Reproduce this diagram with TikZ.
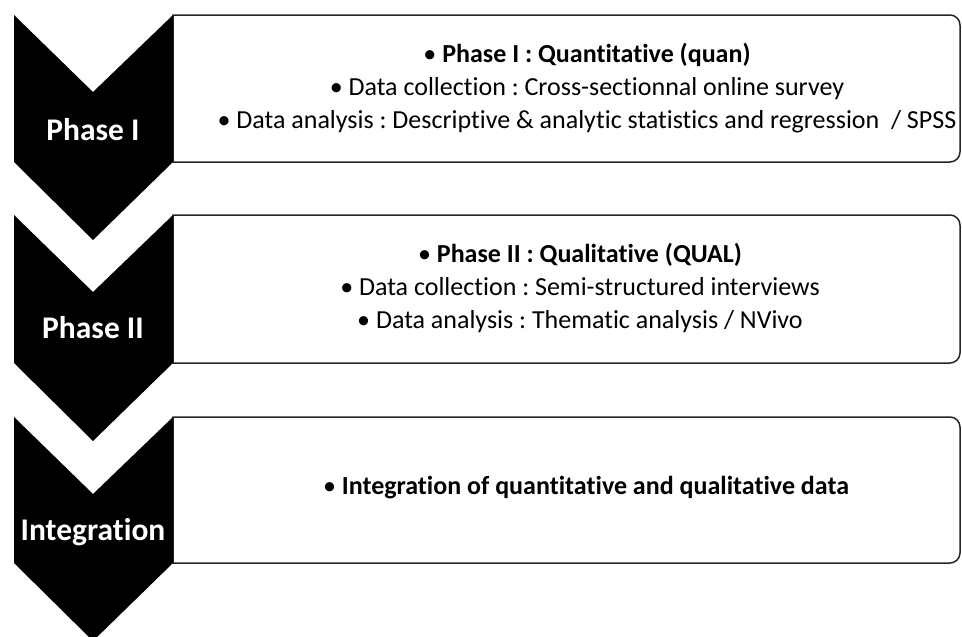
\documentclass[tikz,border=0pt]{standalone}
\usepackage{fontspec}
\setmainfont{Carlito}[Ligatures=NoCommon]
\begin{document}
\frenchspacing
\begin{tikzpicture}[x=1pt,y=-1pt,
  chev/.style={fill=black,draw=none},
  panel/.style={draw=black!85,line width=1.5pt,fill=white},
  lbl/.style={text=white,font=\fontsize{31.5}{31.5}\selectfont\bfseries,inner sep=0pt},
  txt/.style={align=center,font=\fontsize{26}{33}\selectfont,inner sep=0pt}]
\clip (0,0) rectangle (962,637);
\fill[white] (0,0) rectangle (962,637);
% panels
\foreach \t/\b in {15/162,215/363,417/563}{
  \draw[panel] (173,\b) -- (173,\t) -- (950,\t) arc[start angle=-90,end angle=0,radius=10] -- (960,\b-10) arc[start angle=0,end angle=90,radius=10] -- cycle;
}
% chevrons
\foreach \t/\s in {15/162,215/363,417/563}{
  \fill[chev] (14,\t) -- (93,\t+77) -- (173,\t) -- (173,\s) -- (93,\s+78) -- (14,\s) -- cycle;
}
\node[lbl] (l1) at (93,130) {Phase I};
\node[lbl] (l2) at (93,328) {Phase II};
\node[lbl] (l3) at (93,532) {Integration};
\node[txt] (t1) at (587,88) {• \textbf{Phase I : Quantitative (quan)}\\ • Data collection : Cross-sectionnal online survey\\ • Data analysis : Descriptive \& analytic statistics and regression~~/ SPSS};
\node[txt] (t2) at (580,288) {• \textbf{Phase II : Qualitative (QUAL)}\\ • Data collection : Semi-structured interviews\\ • Data analysis : Thematic analysis / NVivo};
\node[txt] (t3) at (586,488) {• \textbf{Integration of quantitative and qualitative data}};
\end{tikzpicture}
\end{document}
